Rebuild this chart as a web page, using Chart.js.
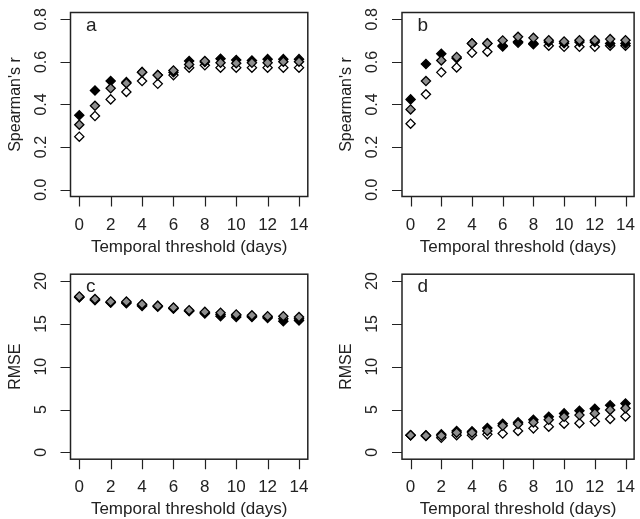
<!DOCTYPE html>
<html>
<head>
<meta charset="utf-8">
<script src="https://cdn.jsdelivr.net/npm/chart.js@4.4.0/dist/chart.umd.min.js"></script>
<style>
  html, body { margin: 0; padding: 0; background: #fff; }
  #wrap { position: relative; width: 640px; height: 519px; overflow: hidden; }
  #wrap canvas { position: absolute; }
</style>
</head>
<body>
<div id="wrap">
  <canvas id="pa" width="320" height="262" style="left:0;top:0"></canvas>
  <canvas id="pb" width="320" height="262" style="left:320px;top:0"></canvas>
  <canvas id="pc" width="320" height="257" style="left:0;top:262px"></canvas>
  <canvas id="pd" width="320" height="257" style="left:320px;top:262px"></canvas>
</div>
<script>
const days = [0, 1, 2, 3, 4, 5, 6, 7, 8, 9, 10, 11, 12, 13, 14];
const xTicks = [0, 2, 4, 6, 8, 10, 12, 14];
const rTicks = [0, 0.2, 0.4, 0.6, 0.8];
const rTickLabels = ['0.0', '0.2', '0.4', '0.6', '0.8'];
const rmseTicks = [0, 5, 10, 15, 20];
const rmseTickLabels = ['0', '5', '10', '15', '20'];
const xTitle = 'Temporal threshold (days)';

// panel a - Spearman's r
const aBlack = [0.35, 0.466, 0.51, 0.505, 0.552, 0.538, 0.551, 0.604, 0.600, 0.615, 0.609, 0.607, 0.613, 0.613, 0.613];
const aGray  = [0.305, 0.394, 0.476, 0.50, 0.552, 0.538, 0.56, 0.588, 0.604, 0.596, 0.594, 0.596, 0.596, 0.601, 0.601];
const aWhite = [0.249, 0.346, 0.424, 0.459, 0.51, 0.497, 0.538, 0.573, 0.584, 0.573, 0.573, 0.573, 0.573, 0.573, 0.573];

// panel b - Spearman's r
const bBlack = [0.424, 0.59, 0.638, 0.617, 0.687, 0.687, 0.676, 0.695, 0.687, 0.693, 0.688, 0.693, 0.693, 0.687, 0.687];
const bGray  = [0.377, 0.51, 0.607, 0.623, 0.687, 0.687, 0.701, 0.718, 0.713, 0.702, 0.696, 0.702, 0.702, 0.707, 0.702];
const bWhite = [0.31, 0.448, 0.551, 0.574, 0.643, 0.648, 0.672, 0.69, 0.683, 0.676, 0.671, 0.671, 0.671, 0.676, 0.676];

// panel c - RMSE
const cBlack = [18.1, 17.8, 17.5, 17.4, 17.1, 17.0, 16.8, 16.5, 16.2, 15.9, 15.8, 15.8, 15.7, 15.3, 15.4];
const cGray  = [18.2, 17.9, 17.6, 17.6, 17.3, 17.1, 16.9, 16.6, 16.4, 16.3, 16.1, 16.0, 15.9, 15.9, 15.8];
const cWhite = [18.1, 17.8, 17.5, 17.5, 17.2, 17.1, 16.8, 16.5, 16.3, 16.1, 16.0, 15.9, 15.8, 15.6, 15.6];

// panel d - RMSE
const dBlack = [2.0, 2.0, 2.1, 2.5, 2.45, 2.85, 3.35, 3.5, 3.8, 4.15, 4.55, 4.85, 5.1, 5.5, 5.7];
const dGray  = [2.0, 1.95, 1.95, 2.3, 2.3, 2.5, 3.1, 3.3, 3.5, 3.8, 4.15, 4.35, 4.55, 4.95, 5.15];
const dWhite = [2.0, 1.9, 1.7, 2.0, 2.0, 2.1, 2.2, 2.5, 2.8, 3.0, 3.35, 3.4, 3.6, 3.9, 4.2];

const FONT = '"Liberation Sans", Arial, sans-serif';
const INK = '#222';

// R-style box, ticks and labels, drawn from the chart's own scales
const rAxes = {
  id: 'rAxes',
  afterDatasetsDraw(chart, args, o) {
    const ctx = chart.ctx, a = chart.chartArea;
    const xs = chart.scales.x, ys = chart.scales.y;
    ctx.save();
    ctx.strokeStyle = INK;
    ctx.lineWidth = 1.5;
    ctx.strokeRect(a.left, a.top, a.right - a.left, a.bottom - a.top);

    ctx.lineWidth = 1.2;
    ctx.beginPath();
    xTicks.forEach(function (v) {
      const px = Math.round(xs.getPixelForValue(v)) + 0.5;
      ctx.moveTo(px, a.bottom); ctx.lineTo(px, a.bottom + 10);
    });
    o.yTicks.forEach(function (v) {
      const py = Math.round(ys.getPixelForValue(v)) + 0.5;
      ctx.moveTo(a.left, py); ctx.lineTo(a.left - 10, py);
    });
    ctx.stroke();

    ctx.fillStyle = INK;
    ctx.font = '17px ' + FONT;
    ctx.textAlign = 'center';
    ctx.textBaseline = 'alphabetic';
    xTicks.forEach(function (v) {
      ctx.fillText(String(v), xs.getPixelForValue(v), a.bottom + 33);
    });
    ctx.fillText(xTitle, (a.left + a.right) / 2, a.bottom + 55);

    ctx.font = '16px ' + FONT;
    ctx.textBaseline = 'middle';
    o.yTicks.forEach(function (v, i) {
      ctx.save();
      ctx.translate(a.left - 29, ys.getPixelForValue(v));
      ctx.rotate(-Math.PI / 2);
      ctx.fillText(o.yLabels[i], 0, 0);
      ctx.restore();
    });
    ctx.save();
    ctx.translate(a.left - 55, (a.top + a.bottom) / 2);
    ctx.rotate(-Math.PI / 2);
    ctx.fillText(o.yTitle, 0, 0);
    ctx.restore();

    ctx.font = '19px ' + FONT;
    ctx.textAlign = 'left';
    ctx.textBaseline = 'alphabetic';
    ctx.fillText(o.letter, a.left + 15.5, a.top + 18);
    ctx.restore();
  }
};

function pts(vals) {
  return days.map(function (d, i) { return { x: d, y: vals[i] }; });
}

function makePanel(id, pad, yMin, yMax, yTicks, yLabels, yTitle, letter, black, gray, white) {
  const common = { pointStyle: 'rectRot', pointRadius: 4.6, borderColor: '#000', borderWidth: 1.3, showLine: false };
  return new Chart(document.getElementById(id), {
    type: 'scatter',
    data: {
      datasets: [
        Object.assign({ label: 'gray', data: pts(gray), backgroundColor: '#8e8e8e', order: 0 }, common),
        Object.assign({ label: 'black', data: pts(black), backgroundColor: '#000', order: 1 }, common),
        Object.assign({ label: 'white', data: pts(white), backgroundColor: '#fff', order: 2 }, common)
      ]
    },
    options: {
      responsive: false,
      devicePixelRatio: 1,
      animation: false,
      layout: { padding: pad },
      plugins: {
        legend: { display: false },
        tooltip: { enabled: false },
        rAxes: { yTicks: yTicks, yLabels: yLabels, yTitle: yTitle, letter: letter }
      },
      scales: {
        x: { type: 'linear', min: -0.56, max: 14.56, display: false },
        y: { type: 'linear', min: yMin, max: yMax, display: false }
      }
    },
    plugins: [rAxes]
  });
}

const rPadL = { left: 70.5, top: 12.5, right: 12.2, bottom: 65.5 };
const rPadR = { left: 82, top: 12.5, right: 1.5, bottom: 65.5 };
const ePadL = { left: 70.5, top: 12.2, right: 12.2, bottom: 59.8 };
const ePadR = { left: 82, top: 12.2, right: 1.5, bottom: 59.8 };

makePanel('pa', rPadL, -0.032, 0.832, rTicks, rTickLabels, "Spearman's r", 'a', aBlack, aGray, aWhite);
makePanel('pb', rPadR, -0.032, 0.832, rTicks, rTickLabels, "Spearman's r", 'b', bBlack, bGray, bWhite);
makePanel('pc', ePadL, -0.8, 20.8, rmseTicks, rmseTickLabels, 'RMSE', 'c', cBlack, cGray, cWhite);
makePanel('pd', ePadR, -0.8, 20.8, rmseTicks, rmseTickLabels, 'RMSE', 'd', dBlack, dGray, dWhite);
</script>
</body>
</html>
